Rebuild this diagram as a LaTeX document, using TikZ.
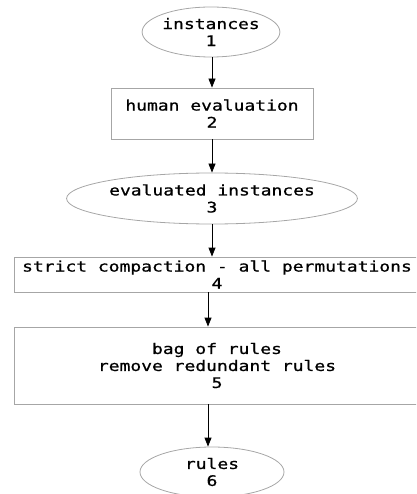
\documentclass[tikz,border=0pt]{standalone}
\usepackage{fontspec}
\setmonofont{DejaVu Sans Mono}[FakeStretch=1.24,FakeBold=0.8]
\usetikzlibrary{shapes.geometric,arrows.meta}
\begin{document}
\begin{tikzpicture}[x=1pt,y=-1pt,
  every node/.style={font=\ttfamily\fontsize{14.5}{17}\selectfont, align=center, inner sep=0pt},
  ell/.style={draw=gray!70, line width=0.8pt, ellipse},
  boxn/.style={draw=gray!70, line width=0.8pt, rectangle},
  arr/.style={draw=black, line width=0.8pt, -{Triangle[length=9pt,width=7pt]}}]
\useasboundingbox (0,0) rectangle (416,494);
\clip (0,0) rectangle (416,494);
\node[ell, minimum width=137, minimum height=50] (e1) at (211,32) {instances\\1};
\node[boxn, minimum width=202, minimum height=51] (b2) at (212,113.5) {human evaluation\\2};
\node[ell, minimum width=288, minimum height=51] (e3) at (212,198.5) {evaluated instances\\3};
\node[boxn, minimum width=406, minimum height=35] (b4) at (217,274.5) {strict compaction - all permutations\\4};
\node[boxn, minimum width=406, minimum height=77] (b5) at (217,365.5) {bag of rules\\remove redundant rules\\5};
\node[ell, minimum width=144, minimum height=50] (e6) at (212,472) {rules\\6};
\draw[arr] ([xshift=1]e1.south) -- ([xshift=0]b2.north);
\draw[arr] (b2.south) -- (e3.north);
\draw[arr] (e3.south) -- (e3.south |- b4.north);
\draw[arr] ([xshift=-9]b4.south) -- ([xshift=-9]b5.north);
\draw[arr] ([xshift=-9]b5.south) -- ([xshift=-9]b5.south |- e6.north);
\end{tikzpicture}
\end{document}
